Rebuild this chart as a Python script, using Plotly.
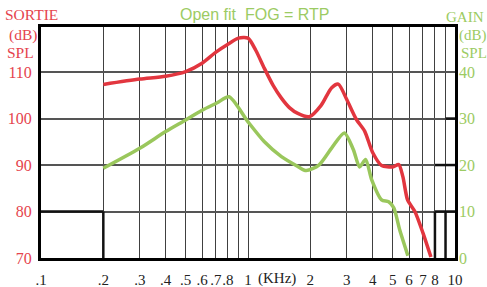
import math
import plotly.graph_objects as go

# Data
red_freq = [0.2, 0.3, 0.4, 0.5, 0.6, 0.7, 0.8, 0.9, 1.0, 1.09, 1.2, 1.32, 1.45, 1.59, 1.74, 1.98,
            2.26, 2.53, 2.73, 3.0, 3.34, 3.66, 4.0, 4.42, 5.0, 5.35, 5.6, 5.9, 6.4, 7.0, 7.65]
red_spl = [107.35, 108.5, 109.1, 110.1, 111.9, 114.3, 116.0, 117.3, 117.3, 114.7, 110.8, 107.2, 104.4,
           102.3, 101.1, 100.4, 102.9, 106.6, 107.4, 104.1, 99.8, 97.3, 92.7, 89.9, 89.6, 90.1, 87.5,
           82.5, 80.0, 75.4, 70.2]

green_freq = [0.2, 0.3, 0.4, 0.5, 0.6, 0.71, 0.81, 1.0, 1.2, 1.45, 1.74, 1.91, 2.2, 2.53, 2.92, 3.23,
              3.46, 3.7, 3.96, 4.42, 4.78, 5.06, 5.41, 5.92]
green_gain = [19.3, 23.6, 27.2, 29.7, 31.8, 33.4, 34.7, 29.3, 25.0, 21.8, 19.7, 18.8, 20.0, 23.6, 26.9,
              23.3, 19.6, 21.2, 16.8, 12.5, 12.1, 10.8, 6.0, 0.5]

x_tickvals = [0.1, 0.2, 0.3, 0.4, 0.5, 0.6, 0.7, 0.8, 0.9, 1, 2, 3, 4, 5, 6, 7, 8, 9, 10]
x_ticktext = ['.1', '.2', '.3', '.4', '.5', '.6', '.7', '.8', '', '1', '2', '3', '4', '5', '6', '7', '8', '', '10']
left_ticks = [70, 80, 90, 100, 110]
right_ticks = [0, 10, 20, 30, 40]

# darker grid-line segments of the printed chart: (f0, f1, y0, y1)
accent_segments = [(0.1, 0.2, 80, 80), (0.2, 0.2, 70, 80), (9, 9, 70, 80), (8, 8, 70, 80),
                   (8, 10, 80, 80), (8, 10, 90, 90), (9, 10, 100, 100)]

RED = '#e2363f'
GREEN = '#9ac75c'
RED_TXT = '#e5444d'
GREEN_TXT = '#9ccb63'
SERIF = 'Liberation Serif'

fig = go.Figure()
fig.add_trace(go.Scatter(x=red_freq, y=red_spl, mode='lines',
                         line=dict(color=RED, width=3.5, shape='spline', smoothing=0.7),
                         yaxis='y', showlegend=False))
fig.add_trace(go.Scatter(x=green_freq, y=green_gain, mode='lines',
                         line=dict(color=GREEN, width=3.5, shape='spline', smoothing=0.7),
                         yaxis='y2', showlegend=False))

fig.update_layout(
    width=487, height=287,
    margin=dict(l=41, r=32, t=27, b=29, autoexpand=False),
    paper_bgcolor='white', plot_bgcolor='white',
    xaxis=dict(type='log', range=[-1, 1], tickvals=x_tickvals, ticktext=x_ticktext,
               showgrid=True, gridcolor='#404040', gridwidth=1.3, automargin=False, tickangle=0,
               showline=True, linecolor='black', linewidth=3, mirror=True,
               ticks='', ticklabelstandoff=6, tickfont=dict(family=SERIF, size=15, color='#222'),
               zeroline=False),
    yaxis=dict(range=[70, 119.7], tickvals=left_ticks, showgrid=True, gridcolor='#555',
               gridwidth=1.6, showline=True, linecolor='black', linewidth=3, mirror=True,
               ticks='', ticklabelstandoff=3, automargin=False,
               tickfont=dict(family=SERIF, size=16, color=RED_TXT), zeroline=False),
    yaxis2=dict(range=[0, 49.7], tickvals=right_ticks, overlaying='y', side='right',
                showgrid=False, ticks='', ticklabelstandoff=3, automargin=False,
                tickfont=dict(family=SERIF, size=16, color=GREEN_TXT), zeroline=False),
)


def xp(f):
    return (math.log10(f) + 1) / 2


for f0, f1, y0, y1 in accent_segments:
    fig.add_shape(type='line', xref='paper', yref='y', x0=xp(f0), x1=xp(f1), y0=y0, y1=y1,
                  line=dict(color='#111', width=2.5), layer='above')

ann = [
    dict(text='SORTIE', x=60, y=15),
    dict(text='(dB)', x=39, y=35),
    dict(text='SPL', x=36, y=53),
]
for a in ann:
    fig.add_annotation(text=a['text'], xref='paper', yref='paper', x=(a['x'] - 41) / 414,
                       y=1 - (a['y'] - 27) / 231, xanchor='right', yanchor='middle',
                       showarrow=False, font=dict(family=SERIF, size=15.5, color=RED_TXT))
ann2 = [
    dict(text='GAIN', x=444, y=17),
    dict(text='(dB)', x=457, y=35),
    dict(text='SPL', x=459, y=53),
]
for a in ann2:
    fig.add_annotation(text=a['text'], xref='paper', yref='paper', x=(a['x'] - 41) / 414,
                       y=1 - (a['y'] - 27) / 231, xanchor='left', yanchor='middle',
                       showarrow=False, font=dict(family=SERIF, size=15, color=GREEN_TXT))

fig.add_annotation(text='Open fit  FOG = RTP', xref='paper', yref='paper', x=(255 - 41) / 414,
                   y=1 - (15 - 27) / 231, xanchor='center', yanchor='middle', showarrow=False,
                   font=dict(family='Liberation Sans', size=16, color=GREEN_TXT))
fig.add_annotation(text='(KHz)', xref='paper', yref='paper', x=(277 - 41) / 414,
                   y=1 - (278 - 27) / 231, xanchor='center', yanchor='middle', showarrow=False,
                   font=dict(family=SERIF, size=15, color='#222'))

fig.write_html('out.html', config={'displayModeBar': False},
               post_script="document.body.style.margin='0';document.body.style.padding='0';")
